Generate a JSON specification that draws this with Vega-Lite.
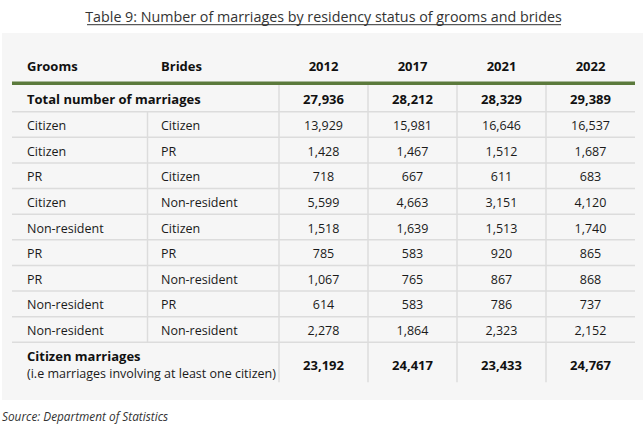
{
  "$schema": "https://vega.github.io/schema/vega-lite/v6.json",
  "width": 643,
  "height": 430,
  "padding": 0,
  "autosize": {"type": "none"},
  "background": "#ffffff",
  "config": {
    "view": {"stroke": null},
    "text": {"font": "Open Sans", "fontSize": 12.5, "color": "#1a1a1a", "baseline": "middle"}
  },
  "datasets": {
    "rows": [
      {"row": 1, "label": "Total number of marriages"},
      {"row": 2, "groom": "Citizen", "bride": "Citizen"},
      {"row": 3, "groom": "Citizen", "bride": "PR"},
      {"row": 4, "groom": "PR", "bride": "Citizen"},
      {"row": 5, "groom": "Citizen", "bride": "Non-resident"},
      {"row": 6, "groom": "Non-resident", "bride": "Citizen"},
      {"row": 7, "groom": "PR", "bride": "PR"},
      {"row": 8, "groom": "PR", "bride": "Non-resident"},
      {"row": 9, "groom": "Non-resident", "bride": "PR"},
      {"row": 10, "groom": "Non-resident", "bride": "Non-resident"},
      {"row": 11, "label": "Citizen marriages", "note": "(i.e marriages involving at least one citizen)"}
    ],
    "cells": [
      {"row": 1, "year": "2012", "n": 27936}, {"row": 1, "year": "2017", "n": 28212}, {"row": 1, "year": "2021", "n": 28329}, {"row": 1, "year": "2022", "n": 29389},
      {"row": 2, "year": "2012", "n": 13929}, {"row": 2, "year": "2017", "n": 15981}, {"row": 2, "year": "2021", "n": 16646}, {"row": 2, "year": "2022", "n": 16537},
      {"row": 3, "year": "2012", "n": 1428}, {"row": 3, "year": "2017", "n": 1467}, {"row": 3, "year": "2021", "n": 1512}, {"row": 3, "year": "2022", "n": 1687},
      {"row": 4, "year": "2012", "n": 718}, {"row": 4, "year": "2017", "n": 667}, {"row": 4, "year": "2021", "n": 611}, {"row": 4, "year": "2022", "n": 683},
      {"row": 5, "year": "2012", "n": 5599}, {"row": 5, "year": "2017", "n": 4663}, {"row": 5, "year": "2021", "n": 3151}, {"row": 5, "year": "2022", "n": 4120},
      {"row": 6, "year": "2012", "n": 1518}, {"row": 6, "year": "2017", "n": 1639}, {"row": 6, "year": "2021", "n": 1513}, {"row": 6, "year": "2022", "n": 1740},
      {"row": 7, "year": "2012", "n": 785}, {"row": 7, "year": "2017", "n": 583}, {"row": 7, "year": "2021", "n": 920}, {"row": 7, "year": "2022", "n": 865},
      {"row": 8, "year": "2012", "n": 1067}, {"row": 8, "year": "2017", "n": 765}, {"row": 8, "year": "2021", "n": 867}, {"row": 8, "year": "2022", "n": 868},
      {"row": 9, "year": "2012", "n": 614}, {"row": 9, "year": "2017", "n": 583}, {"row": 9, "year": "2021", "n": 786}, {"row": 9, "year": "2022", "n": 737},
      {"row": 10, "year": "2012", "n": 2278}, {"row": 10, "year": "2017", "n": 1864}, {"row": 10, "year": "2021", "n": 2323}, {"row": 10, "year": "2022", "n": 2152},
      {"row": 11, "year": "2012", "n": 23192}, {"row": 11, "year": "2017", "n": 24417}, {"row": 11, "year": "2021", "n": 23433}, {"row": 11, "year": "2022", "n": 24767}
    ]
  },
  "resolve": {"scale": {"x": "independent"}},
  "layer": [
    {
      "data": {"name": "rows"},
      "layer": [
        {
          "transform": [{"filter": "datum.row === 1"}],
          "mark": {"type": "rect", "fill": "#f6f6f6"},
          "encoding": {
            "x": {"datum": -0.1124, "type": "quantitative", "scale": {"domain": [-0.13483, 7.0899], "nice": false, "zero": false}, "axis": null},
            "x2": {"datum": 7.0899},
            "y": {"datum": -1.6293, "type": "quantitative", "scale": {"domain": [-2.9171, 13.8634], "reverse": true, "nice": false, "zero": false}, "axis": null},
            "y2": {"datum": 12.6927}
          }
        },
        {
          "transform": [{"filter": "datum.row <= 10"}],
          "mark": {"type": "rule", "stroke": "#dcdcdc", "strokeWidth": 1.5, "yOffset": 11.3},
          "encoding": {
            "x": {"datum": 0, "type": "quantitative", "scale": {"domain": [-0.13483, 7.0899], "nice": false, "zero": false}, "axis": null},
            "x2": {"datum": 7},
            "y": {"field": "row", "type": "quantitative", "scale": {"domain": [-2.9171, 13.8634], "reverse": true, "nice": false, "zero": false}, "axis": null}
          }
        },
        {
          "transform": [{"filter": "datum.row === 1"}],
          "mark": {"type": "rule", "stroke": "#dcdcdc", "strokeWidth": 1.5, "xOffset": 2},
          "encoding": {
            "x": {"datum": 1.5, "type": "quantitative", "scale": {"domain": [-0.13483, 7.0899], "nice": false, "zero": false}, "axis": null},
            "y": {"datum": 1.45, "type": "quantitative", "scale": {"domain": [-2.9171, 13.8634], "reverse": true, "nice": false, "zero": false}, "axis": null},
            "y2": {"datum": 10.45}
          }
        },
        {
          "transform": [{"filter": "datum.row === 1"}],
          "mark": {"type": "rule", "stroke": "#5b7a3c", "strokeWidth": 3.5, "yOffset": -4.3},
          "encoding": {
            "x": {"datum": 0, "type": "quantitative", "scale": {"domain": [-0.13483, 7.0899], "nice": false, "zero": false}, "axis": null},
            "x2": {"datum": 7},
            "y": {"datum": 0.5, "type": "quantitative", "scale": {"domain": [-2.9171, 13.8634], "reverse": true, "nice": false, "zero": false}, "axis": null}
          }
        },
        {
          "transform": [{"filter": "datum.row === 1"}],
          "mark": {"type": "text", "align": "center", "fontSize": 14.3, "dy": -5.5, "color": "#333333"},
          "encoding": {
            "text": {"value": "Table 9: Number of marriages by residency status of grooms and brides"},
            "x": {"datum": 3.5, "type": "quantitative", "scale": {"domain": [-0.13483, 7.0899], "nice": false, "zero": false}, "axis": null},
            "y": {"datum": -2, "type": "quantitative", "scale": {"domain": [-2.9171, 13.8634], "reverse": true, "nice": false, "zero": false}, "axis": null}
          }
        },
        {
          "transform": [{"filter": "datum.row === 1"}],
          "mark": {"type": "rule", "stroke": "#333333", "strokeWidth": 1, "yOffset": 1.2},
          "encoding": {
            "x": {"datum": 0.843, "type": "quantitative", "scale": {"domain": [-0.13483, 7.0899], "nice": false, "zero": false}, "axis": null},
            "x2": {"datum": 6.169},
            "y": {"datum": -2, "type": "quantitative", "scale": {"domain": [-2.9171, 13.8634], "reverse": true, "nice": false, "zero": false}, "axis": null}
          }
        },
        {
          "transform": [{"filter": "datum.row === 1"}],
          "mark": {"type": "text", "align": "left", "fontSize": 11.8, "fontStyle": "italic", "dx": -10, "dy": 9, "color": "#333333"},
          "encoding": {
            "text": {"value": "Source: Department of Statistics"},
            "x": {"datum": 0, "type": "quantitative", "scale": {"domain": [-0.13483, 7.0899], "nice": false, "zero": false}, "axis": null},
            "y": {"datum": 13, "type": "quantitative", "scale": {"domain": [-2.9171, 13.8634], "reverse": true, "nice": false, "zero": false}, "axis": null}
          }
        },
        {
          "transform": [{"filter": "datum.row === 1"}],
          "mark": {"type": "text", "align": "left", "fontSize": 13, "fontWeight": "bold", "dx": 15, "dy": -7.75, "color": "#111111"},
          "encoding": {
            "text": {"value": "Grooms"},
            "x": {"datum": 0, "type": "quantitative", "scale": {"domain": [-0.13483, 7.0899], "nice": false, "zero": false}, "axis": null},
            "y": {"datum": 0, "type": "quantitative", "scale": {"domain": [-2.9171, 13.8634], "reverse": true, "nice": false, "zero": false}, "axis": null}
          }
        },
        {
          "transform": [{"filter": "datum.row === 1"}],
          "mark": {"type": "text", "align": "left", "fontSize": 13, "fontWeight": "bold", "dx": 15.5, "dy": -7.75, "color": "#111111"},
          "encoding": {
            "text": {"value": "Brides"},
            "x": {"datum": 1.5, "type": "quantitative", "scale": {"domain": [-0.13483, 7.0899], "nice": false, "zero": false}, "axis": null},
            "y": {"datum": 0, "type": "quantitative", "scale": {"domain": [-2.9171, 13.8634], "reverse": true, "nice": false, "zero": false}, "axis": null}
          }
        },
        {
          "transform": [{"filter": "isValid(datum.groom)"}],
          "mark": {"type": "text", "align": "left", "dx": 15},
          "encoding": {
            "text": {"field": "groom"},
            "x": {"datum": 0, "type": "quantitative", "scale": {"domain": [-0.13483, 7.0899], "nice": false, "zero": false}, "axis": null},
            "y": {"field": "row", "type": "quantitative", "scale": {"domain": [-2.9171, 13.8634], "reverse": true, "nice": false, "zero": false}, "axis": null}
          }
        },
        {
          "transform": [{"filter": "isValid(datum.bride)"}],
          "mark": {"type": "text", "align": "left", "dx": 15.5},
          "encoding": {
            "text": {"field": "bride"},
            "x": {"datum": 1.5, "type": "quantitative", "scale": {"domain": [-0.13483, 7.0899], "nice": false, "zero": false}, "axis": null},
            "y": {"field": "row", "type": "quantitative", "scale": {"domain": [-2.9171, 13.8634], "reverse": true, "nice": false, "zero": false}, "axis": null}
          }
        },
        {
          "transform": [{"filter": "datum.row === 1"}],
          "mark": {"type": "text", "align": "left", "dx": 15, "fontSize": 13, "fontWeight": "bold", "color": "#111111"},
          "encoding": {
            "text": {"field": "label"},
            "x": {"datum": 0, "type": "quantitative", "scale": {"domain": [-0.13483, 7.0899], "nice": false, "zero": false}, "axis": null},
            "y": {"field": "row", "type": "quantitative", "scale": {"domain": [-2.9171, 13.8634], "reverse": true, "nice": false, "zero": false}, "axis": null}
          }
        },
        {
          "transform": [{"filter": "datum.row === 11"}],
          "mark": {"type": "text", "align": "left", "dx": 15, "dy": 0.5, "fontSize": 13, "fontWeight": "bold", "color": "#111111"},
          "encoding": {
            "text": {"field": "label"},
            "x": {"datum": 0, "type": "quantitative", "scale": {"domain": [-0.13483, 7.0899], "nice": false, "zero": false}, "axis": null},
            "y": {"field": "row", "type": "quantitative", "scale": {"domain": [-2.9171, 13.8634], "reverse": true, "nice": false, "zero": false}, "axis": null}
          }
        },
        {
          "transform": [{"filter": "datum.row === 11"}],
          "mark": {"type": "text", "align": "left", "dx": 15, "dy": 17},
          "encoding": {
            "text": {"field": "note"},
            "x": {"datum": 0, "type": "quantitative", "scale": {"domain": [-0.13483, 7.0899], "nice": false, "zero": false}, "axis": null},
            "y": {"field": "row", "type": "quantitative", "scale": {"domain": [-2.9171, 13.8634], "reverse": true, "nice": false, "zero": false}, "axis": null}
          }
        }
      ]
    },
    {
      "data": {"name": "cells"},
      "layer": [
        {
          "transform": [{"filter": "datum.row === 1"}],
          "mark": {"type": "rule", "stroke": "#dcdcdc", "strokeWidth": 1.5},
          "encoding": {
            "x": {"field": "year", "type": "ordinal", "bandPosition": 0, "scale": {"type": "band", "domain": ["2012", "2017", "2021", "2022"], "range": [279, 635], "paddingInner": 0, "paddingOuter": 0}, "axis": null},
            "y": {"datum": 0.4, "type": "quantitative", "scale": {"domain": [-2.9171, 13.8634], "reverse": true, "nice": false, "zero": false}, "axis": null},
            "y2": {"datum": 12}
          }
        },
        {
          "transform": [{"filter": "datum.row === 1"}],
          "mark": {"type": "text", "align": "center", "fontSize": 13, "fontWeight": "bold", "dy": -7.75, "color": "#111111"},
          "encoding": {
            "text": {"field": "year"},
            "x": {"field": "year", "type": "ordinal", "scale": {"type": "band", "domain": ["2012", "2017", "2021", "2022"], "range": [279, 635], "paddingInner": 0, "paddingOuter": 0}, "axis": null},
            "y": {"datum": 0, "type": "quantitative", "scale": {"domain": [-2.9171, 13.8634], "reverse": true, "nice": false, "zero": false}, "axis": null}
          }
        },
        {
          "transform": [{"filter": "datum.row > 1 && datum.row < 11"}],
          "mark": {"type": "text", "align": "center"},
          "encoding": {
            "text": {"field": "n", "type": "quantitative", "format": ","},
            "x": {"field": "year", "type": "ordinal", "scale": {"type": "band", "domain": ["2012", "2017", "2021", "2022"], "range": [279, 635], "paddingInner": 0, "paddingOuter": 0}, "axis": null},
            "y": {"field": "row", "type": "quantitative", "scale": {"domain": [-2.9171, 13.8634], "reverse": true, "nice": false, "zero": false}, "axis": null}
          }
        },
        {
          "transform": [{"filter": "datum.row === 1"}],
          "mark": {"type": "text", "align": "center", "fontSize": 13, "fontWeight": "bold", "color": "#111111"},
          "encoding": {
            "text": {"field": "n", "type": "quantitative", "format": ","},
            "x": {"field": "year", "type": "ordinal", "scale": {"type": "band", "domain": ["2012", "2017", "2021", "2022"], "range": [279, 635], "paddingInner": 0, "paddingOuter": 0}, "axis": null},
            "y": {"field": "row", "type": "quantitative", "scale": {"domain": [-2.9171, 13.8634], "reverse": true, "nice": false, "zero": false}, "axis": null}
          }
        },
        {
          "transform": [{"filter": "datum.row === 11"}],
          "mark": {"type": "text", "align": "center", "fontSize": 13, "fontWeight": "bold", "dy": 9, "color": "#111111"},
          "encoding": {
            "text": {"field": "n", "type": "quantitative", "format": ","},
            "x": {"field": "year", "type": "ordinal", "scale": {"type": "band", "domain": ["2012", "2017", "2021", "2022"], "range": [279, 635], "paddingInner": 0, "paddingOuter": 0}, "axis": null},
            "y": {"field": "row", "type": "quantitative", "scale": {"domain": [-2.9171, 13.8634], "reverse": true, "nice": false, "zero": false}, "axis": null}
          }
        }
      ]
    }
  ]
}
